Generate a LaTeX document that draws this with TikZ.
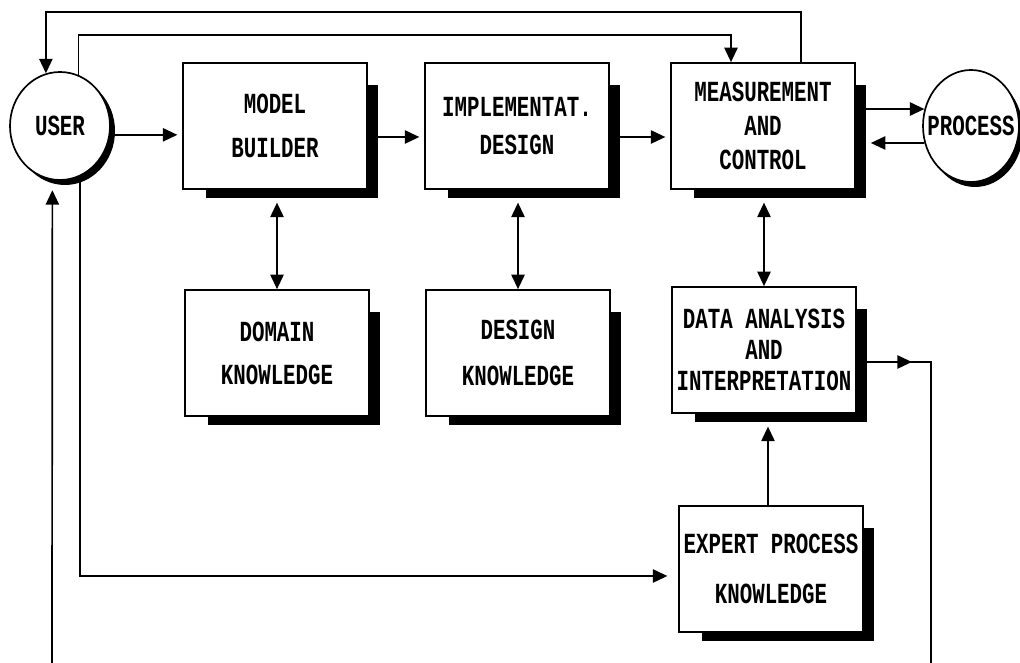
\documentclass[tikz,border=0pt]{standalone}
\usepackage{fontspec}
\setmonofont{Liberation Mono}
\usepackage{graphicx}
\usepackage{tikz}
\usetikzlibrary{arrows.meta,shapes.geometric,backgrounds}
\newcommand{\tallcap}[1]{\scalebox{1}[1.4]{#1}}

\begin{document}
\begin{tikzpicture}[x=0.25mm,y=0.25mm,line width=1.2pt,
    font=\ttfamily\bfseries\fontsize{14.8}{22}\selectfont,
    box/.style={draw,fill=white,minimum width=46mm,minimum height=31.5mm,inner sep=0pt,align=center},
    blob/.style={draw,fill=white,ellipse,inner sep=0pt},
    arr/.style={-{Triangle[length=3.6mm,width=3.3mm]}},
    dbl/.style={{Triangle[length=3.6mm,width=3.3mm]}-{Triangle[length=3.6mm,width=3.3mm]}}]
    \useasboundingbox (0,0) rectangle (1020,663);
    \node[blob,minimum width=25mm,minimum height=27mm] (user) at (60,537) {\makebox[0pt]{\tallcap{USER}}};
    \node[blob,minimum width=24mm,minimum height=28mm] (proc) at (971,537) {\makebox[0pt]{\tallcap{PROCESS}}};
    \node[box] (mb) at (275,537) {\tallcap{MODEL}\\[9pt]\tallcap{BUILDER}};
    \node[box] (id) at (517,537) {\tallcap{IMPLEMENTAT.}\\[5pt]\tallcap{DESIGN}};
    \node[box] (mc) at (763,537) {\tallcap{MEASUREMENT}\\[2pt]\tallcap{AND}\\[2pt]\tallcap{CONTROL}};
    \node[box] (dk) at (277,310) {\tallcap{DOMAIN}\\[8.5pt]\tallcap{KNOWLEDGE}};
    \node[box] (dek) at (518,310) {\tallcap{DESIGN}\\[11pt]\tallcap{KNOWLEDGE}};
    \node[box] (da) at (764,313) {\tallcap{DATA ANALYSIS}\\\tallcap{AND}\\\tallcap{INTERPRETATION}};
    \node[box] (ep) at (771,94) {\tallcap{EXPERT PROCESS}\\[13.5pt]\tallcap{KNOWLEDGE}};
    \coordinate (bot1) at (931,0);
    \coordinate (bot2) at (52,0);
    \begin{scope}[on background layer]
        \foreach \b in {mb,id,mc,dk,dek,da,ep}
            \fill ([shift={(24,-23)}]\b.north west) rectangle ([shift={(10,-8)}]\b.south east);
        \fill ([shift={(5,-5)}]user.center) ellipse [x radius=50, y radius=54];
        \fill ([shift={(4,-5)}]proc.center) ellipse [x radius=48, y radius=56];
    \end{scope}
    % top loops
    \draw[arr] ([shift={(38,0)}]mc.north) -- ++(0,50) -| (user.105);
    \draw[arr] (user.70) |- ([shift={(-32,27)}]mc.north) -- ([shift={(-32,0)}]mc.north);
    % main row
    \draw[arr,shorten >=1.2mm] (user.-10) -- (mb.west |- user.-10);
    \draw[arr,shorten >=1.2mm] ([shift={(10,-11)}]mb.east) -- ([shift={(0,-11)}]id.west);
    \draw[arr,shorten >=1.2mm] ([shift={(10,-11)}]id.east) -- ([shift={(0,-11)}]mc.west);
    \draw[arr] ([shift={(9,17)}]mc.east) -- (proc.160);
    \draw[arr,shorten >=1.5mm] (proc.200) -- ([shift={(9,-17)}]mc.east);
    % knowledge links
    \draw[dbl,shorten <=1.2mm] ([shift={(2,-8)}]mb.south) -- (dk.north);
    \draw[dbl,shorten <=1.2mm] ([shift={(1,-8)}]id.south) -- (dek.north);
    \draw[dbl,shorten <=1.2mm] ([shift={(1,-8)}]mc.south) -- (da.north);
    \draw[arr,shorten >=1.2mm] ([shift={(-3,0)}]ep.north) -- ([shift={(4,-8)}]da.south);
    % side lines
    \draw[arr] ([shift={(9,-12)}]da.east) -- ++(46,0);
    \draw ([shift={(9,-12)}]da.east) -| (bot1);
    \draw[arr,shorten >=2.5mm] (bot2) -- (user.-98);
    \draw[arr,shorten >=2.7mm] (user.-68) |- ([shift={(0,-7)}]ep.west);
\end{tikzpicture}
\end{document}
